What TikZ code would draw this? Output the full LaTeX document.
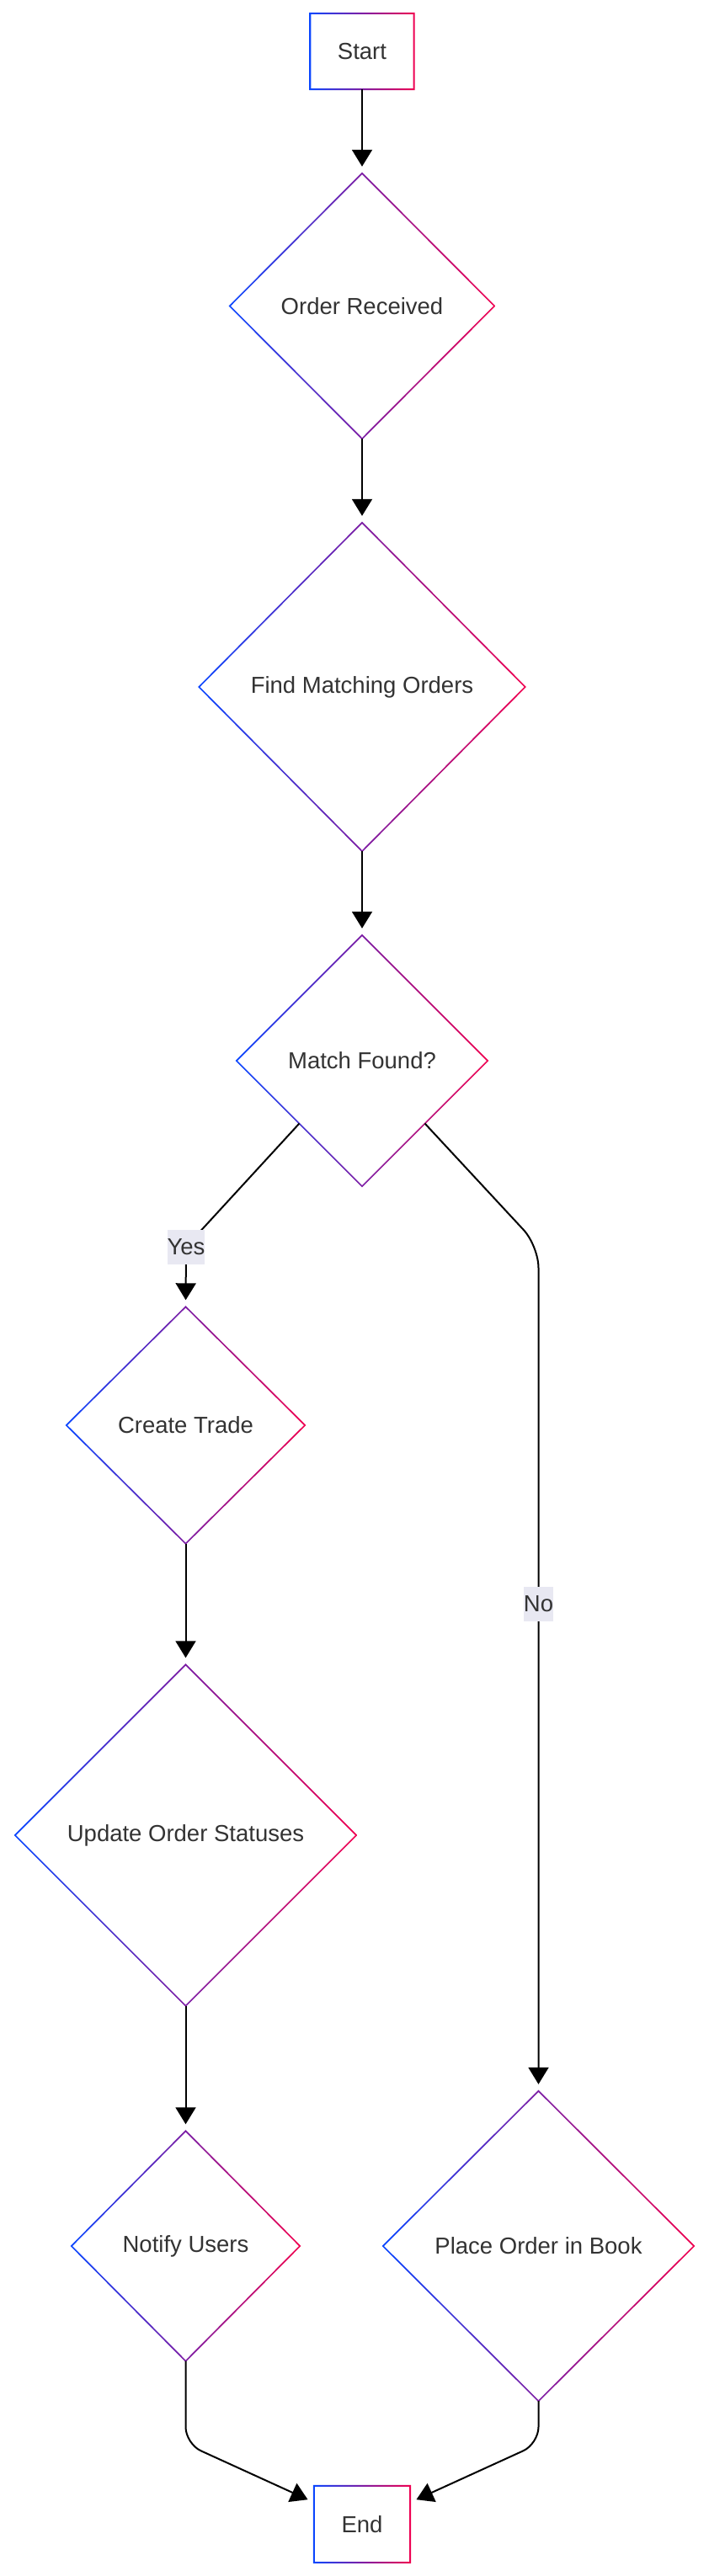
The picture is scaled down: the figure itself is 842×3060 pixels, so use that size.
\documentclass[tikz,border=0pt]{standalone}
\usepackage{fontspec}
\setmainfont{Liberation Sans}
\usepackage{xcolor}
\usepackage{tikz}
\usetikzlibrary{shapes.geometric, arrows.meta, calc}

\definecolor{mmblue}{RGB}{10,70,255}
\definecolor{mmpurple}{RGB}{125,30,165}
\definecolor{mmred}{RGB}{240,0,80}
\definecolor{mmtext}{RGB}{51,51,51}
\definecolor{mmlabel}{RGB}{232,232,242}

\tikzset{
  chartfont/.style={font=\fontsize{27.5}{33}\selectfont, text=mmtext},
  decision/.style={diamond, aspect=1, chartfont, fill=white, inner sep=0pt},
  terminal/.style={rectangle, chartfont, fill=white, inner sep=0pt},
  flow/.style={line width=2pt, -{Triangle[width=24pt,length=20pt]}, shorten >=8pt, rounded corners=26pt},
  edgelabel/.style={chartfont, fill=mmlabel, inner sep=0pt, minimum height=41pt},
}

% gradient outline of a diamond node
\newcommand{\diamondring}[1]{%
  \shade[even odd rule, left color=mmblue, right color=mmred, middle color=mmpurple]
    ($(#1.north)+(0pt,1.2pt)$) -- ($(#1.east)+(1.2pt,0pt)$) -- ($(#1.south)+(0pt,-1.2pt)$) -- ($(#1.west)+(-1.2pt,0pt)$) -- cycle
    ($(#1.north)+(0pt,-1.2pt)$) -- ($(#1.east)+(-1.2pt,0pt)$) -- ($(#1.south)+(0pt,1.2pt)$) -- ($(#1.west)+(1.2pt,0pt)$) -- cycle;}

% gradient outline of a box node
\newcommand{\boxring}[1]{%
  \shade[even odd rule, left color=mmblue, right color=mmred, middle color=mmpurple]
    ($(#1.north west)+(-1pt,1pt)$) rectangle ($(#1.south east)+(1pt,-1pt)$)
    ($(#1.north west)+(1pt,-1pt)$) rectangle ($(#1.south east)+(-1pt,1pt)$);}

\begin{document}
\begin{tikzpicture}[x=1pt, y=-1pt]
            \useasboundingbox (0,0) rectangle (842,3060);

            \node[terminal, minimum width=123pt, minimum height=90pt] (start) at (430,61) {Start};
            \node[decision, minimum width=314pt, minimum height=315pt] (recv) at (430,363.5) {Order Received};
            \node[decision, minimum width=387pt, minimum height=390pt] (find) at (430,816) {Find Matching Orders};
            \node[decision, minimum width=298pt, minimum height=298pt] (match) at (430,1260) {Match Found?};
            \node[decision, minimum width=283pt, minimum height=281pt] (trade) at (220.5,1693) {Create Trade};
            \node[decision, minimum width=405pt, minimum height=405pt] (update) at (220.5,2180) {Update Order Statuses};
            \node[decision, minimum width=271pt, minimum height=273pt] (notify) at (220.5,2668) {Notify Users};
            \node[decision, minimum width=369pt, minimum height=368pt] (place) at (639.5,2668) {Place Order in Book};
            \node[terminal, minimum width=114pt, minimum height=91pt] (endn) at (430,2998.5) {End};

            \boxring{start}
            \diamondring{recv}
            \diamondring{find}
            \diamondring{match}
            \diamondring{trade}
            \diamondring{update}
            \diamondring{notify}
            \diamondring{place}
            \boxring{endn}

            \coordinate (ybend) at (221,1481);
            \coordinate (nbend) at (639.5,1480);
            \coordinate (nolbl) at (639.5,1905);
            \coordinate (lcorner) at (220.5,2903);
            \coordinate (rcorner) at (639.5,2903);

            \draw[flow] (start.south) -- (recv.north); % start-recv
            \draw[flow] (recv.south) -- (find.north); % recv-find
            \draw[flow] (find.south) -- (match.north); % find-match
            \draw[flow, sharp corners] (match.south west) -- (ybend) -- (trade.north); % match-trade
            \draw[flow] (match.south east) -- (nbend) -- (place.north); % match-place
            \draw[flow] (trade.south) -- (update.north); % trade-update
            \draw[flow] (update.south) -- (notify.north); % update-notify
            \draw[flow, rounded corners=20pt] (notify.south) -- (lcorner) -- (endn); % notify-end
            \draw[flow, rounded corners=20pt] (place.south) -- (rcorner) -- (endn); % place-end

            \node[edgelabel] (yes) at (ybend) {Yes};
            \node[edgelabel] (no) at (nolbl) {No};
        \end{tikzpicture}
\end{document}
